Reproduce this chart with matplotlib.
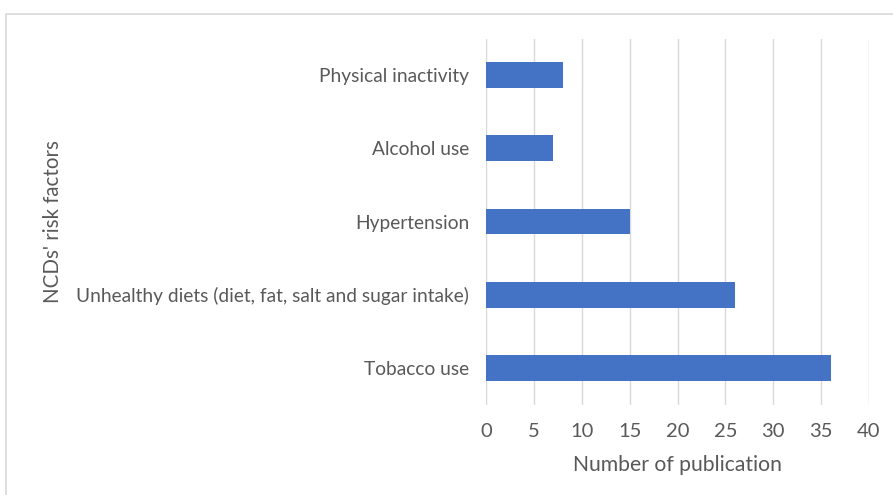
import matplotlib
matplotlib.use("Agg")
import matplotlib.pyplot as plt
from matplotlib.patches import Rectangle

plt.rcParams['font.family'] = ['Lato', 'DejaVu Sans']

categories = [
    "Tobacco use",
    "Unhealthy diets (diet, fat, salt and sugar intake)",
    "Hypertension",
    "Alcohol use",
    "Physical inactivity",
]
publications = [36, 26, 15, 7, 8]
x_ticks = [0, 5, 10, 15, 20, 25, 30, 35, 40]

W, H = 893, 495
fig = plt.figure(figsize=(W / 100, H / 100), dpi=100)
fig.patch.set_facecolor("white")

# outer chart-area frame
fig.add_artist(Rectangle((6 / W, -0.05), 1.2, (H - 14) / H + 0.05,
                         transform=fig.transFigure, fill=False,
                         edgecolor="#d9d9d9", linewidth=1.2))

left, right = 486 / W, 869 / W
top, bottom = 1 - 38.5 / H, 1 - 404.5 / H
ax = fig.add_axes([left, bottom, right - left, top - bottom])

ypos = list(range(len(categories)))
ax.barh(ypos, publications, height=0.355, color="#4472C4", zorder=3)
ax.set_ylim(-0.5, len(categories) - 0.5)
ax.set_xlim(0, 40)
ax.set_xticks(x_ticks)
ax.set_xticklabels([str(t) for t in x_ticks])
ax.set_yticks(ypos)
ax.set_yticklabels(categories)

ax.grid(axis="x", color="#d9d9d9", linewidth=1.0, zorder=0)
for s in ax.spines.values():
    s.set_visible(False)
ax.tick_params(axis="x", length=0, labelsize=14.5, colors="#595959", pad=13)
ax.tick_params(axis="y", length=0, labelsize=13.8, colors="#595959", pad=12)

ax.set_xlabel("Number of publication", fontsize=15.2, color="#595959", labelpad=11)
fig.text(53 / W, 1 - 222 / H, "NCDs' risk factors", rotation=90,
         fontsize=14.8, color="#595959", ha="center", va="center")

fig.savefig("out.png", dpi=100, facecolor="white")
